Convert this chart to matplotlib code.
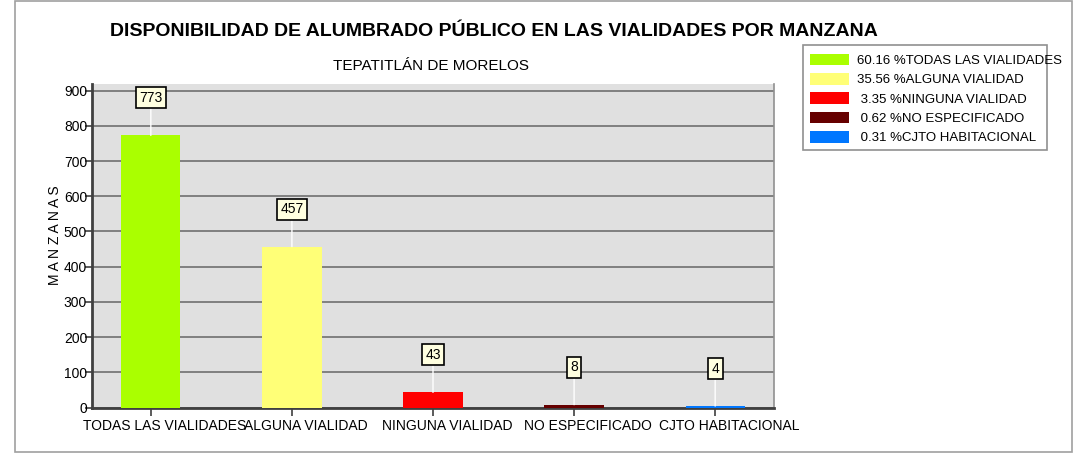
import matplotlib
matplotlib.use("Agg")
import matplotlib.pyplot as plt
from matplotlib import font_manager
from matplotlib.patches import Patch, Rectangle

# data
categorias = ["TODAS LAS VIALIDADES", "ALGUNA VIALIDAD", "NINGUNA VIALIDAD",
              "NO ESPECIFICADO", "CJTO HABITACIONAL"]
manzanas = [773, 457, 43, 8, 4]
porcentajes = [60.16, 35.56, 3.35, 0.62, 0.31]
colores = ["#AAFF00", "#FFFF77", "#FF0000", "#660000", "#0077FF"]
yticks = list(range(0, 1000, 100))

names = {f.name for f in font_manager.fontManager.ttflist}
fam = "Liberation Sans Narrow" if "Liberation Sans Narrow" in names else "Liberation Sans"
plt.rcParams["font.family"] = [fam, "DejaVu Sans"]

fig = plt.figure(figsize=(10.78, 4.58), dpi=100)
W, H = 1078, 458

# outer frame
fig.patches.append(Rectangle((15 / W, 1 - 452 / H), (1072 - 15) / W, (452 - 1) / H,
                             transform=fig.transFigure, fill=False,
                             edgecolor="#A0A0A0", linewidth=1.2))

ax = fig.add_axes([92 / W, 1 - 407.5 / H, (774 - 92) / W, (407.5 - 84) / H])
ax.set_facecolor("#E0E0E0")
x = list(range(len(categorias)))
bars = ax.bar(x, manzanas, width=0.42, color=colores, zorder=3)
ax.set_xlim(-0.417, len(categorias) - 1 + 0.417)
ax.set_ylim(0, 919)
ax.set_yticks(yticks)
ax.yaxis.grid(True, color="#808080", linewidth=1.4, zorder=0)
ax.set_axisbelow(True)

# tick marks on the categories, labels sit a little to the right (as in the original)
ax.set_xticks(x)
ax.set_xticklabels([])
ax.set_xticks([i + 0.1 for i in x], minor=True)
ax.set_xticklabels(categorias, minor=True, fontsize=10)
ax.tick_params(axis="x", which="major", length=6, width=1.2, color="#404040")
ax.tick_params(axis="x", which="minor", length=0, pad=8)
ax.tick_params(axis="y", length=5, width=1.2, pad=-1.5, labelsize=10, color="#404040")
for s in ["left", "bottom"]:
    ax.spines[s].set_color("#404040")
    ax.spines[s].set_linewidth(2)
ax.spines["top"].set_visible(False)
ax.spines["right"].set_color("#909090")
ax.spines["right"].set_linewidth(1.2)
ax.set_ylabel("M A N Z A N A S", fontsize=10)
ax.yaxis.set_label_coords((62 - 92) / 682, (407.5 - 235) / 323.5)

for b, v in zip(bars, manzanas):
    ax.annotate(str(v), xy=(b.get_x() + b.get_width() / 2, v), xytext=(0, 27),
                textcoords="offset points", ha="center", va="center", fontsize=10,
                bbox=dict(boxstyle="square,pad=0.25", fc="#FFFFE0", ec="black", lw=1.2),
                arrowprops=dict(arrowstyle="-", color="white", lw=1, shrinkA=0, shrinkB=0),
                zorder=5)

fig.text(494 / W, 1 - 32 / H, "DISPONIBILIDAD DE ALUMBRADO PÚBLICO EN LAS VIALIDADES POR MANZANA",
         ha="center", va="center", fontsize=14, fontweight="bold")
fig.text(431 / W, 1 - 66 / H, "TEPATITLÁN DE MORELOS", ha="center", va="center", fontsize=11)

# legend box (text runs past the frame in the original)
fig.patches.append(Rectangle((803 / W, 1 - 150 / H), (1047 - 803) / W, (150 - 45) / H,
                             transform=fig.transFigure, fill=False,
                             edgecolor="#909090", linewidth=1.2))
handles = [Patch(facecolor=c, edgecolor="none") for c in colores]
labels = [f"{p:5.2f} %{n}" for p, n in zip(porcentajes, categorias)]
leg = fig.legend(handles, labels, loc="upper left", bbox_to_anchor=(803 / W, 1 - 47 / H),
                 fontsize=9.5, frameon=False, borderaxespad=0, handlelength=3.0,
                 handleheight=1.0, handletextpad=0.6, labelspacing=0.45, borderpad=0.5)

fig.savefig("out.png", dpi=100)
